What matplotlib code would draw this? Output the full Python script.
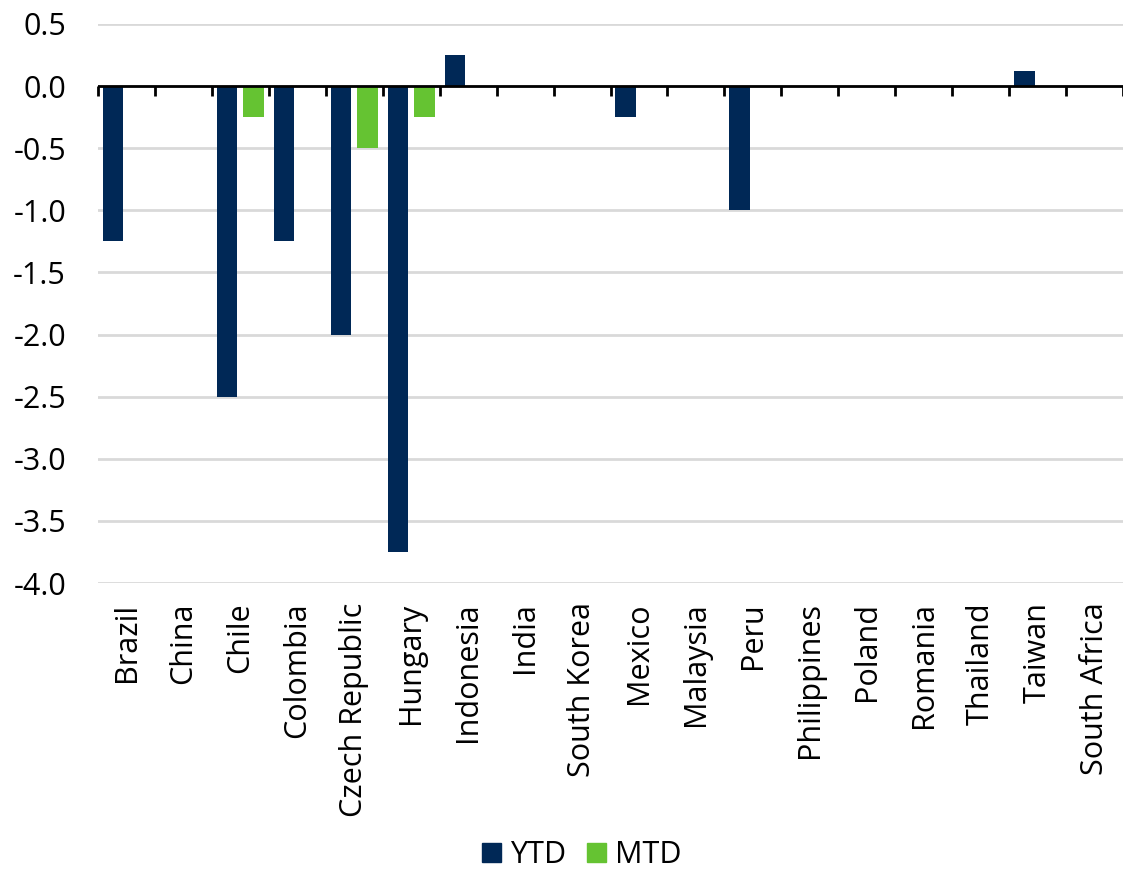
import matplotlib
matplotlib.use("Agg")
import matplotlib.pyplot as plt
import numpy as np
from matplotlib.patches import Patch

countries = ["Brazil", "China", "Chile", "Colombia", "Czech Republic", "Hungary",
             "Indonesia", "India", "South Korea", "Mexico", "Malaysia", "Peru",
             "Philippines", "Poland", "Romania", "Thailand", "Taiwan", "South Africa"]
ytd = [-1.25, 0, -2.5, -1.25, -2.0, -3.75, 0.25, 0, 0, -0.25, 0, -1.0,
       0, 0, 0, 0, 0.125, 0]
mtd = [0, 0, -0.25, 0, -0.5, -0.25, 0, 0, 0, 0, 0, 0,
       0, 0, 0, 0, 0, 0]
yticks = [0.5, 0.0, -0.5, -1.0, -1.5, -2.0, -2.5, -3.0, -3.5, -4.0]

navy = "#002856"
green = "#65C332"
fs = 22

plt.rcParams['font.family'] = ['Open Sans', 'DejaVu Sans']

fig = plt.figure(figsize=(11.23, 8.69), dpi=100)
ax = fig.add_axes([0.0873, 0.3291, 0.9127, 0.6433])

x = np.arange(len(countries))
w = 0.36
off = 0.233
ax.bar(x - off, ytd, width=w, color=navy, zorder=3)
ax.bar(x + off, mtd, width=w, color=green, zorder=3)

ax.set_xlim(-0.5, len(countries) - 0.5)
ax.set_ylim(-4.0, 0.5)
ax.set_yticks(yticks)
ax.set_yticklabels([f"{v:.1f}" for v in yticks], fontsize=fs)
ax.tick_params(axis='y', length=0, pad=23)
ax.yaxis.grid(True, color="#d9d9d9", linewidth=2, zorder=0)

for s in ax.spines.values():
    s.set_visible(False)

# zero baseline with category-boundary ticks hanging below
ax.axhline(0, color="black", linewidth=2, zorder=4)
for b in np.arange(len(countries) + 1) - 0.5:
    ax.plot([b, b], [0, -0.08], color="black", linewidth=2, zorder=4,
            solid_capstyle='butt', clip_on=False)

ax.set_xticks(x)
ax.set_xticklabels(countries, rotation=90, fontsize=fs, va='top', ha='center')
ax.tick_params(axis='x', length=0, pad=14)

handles = [Patch(color=navy, label="YTD"), Patch(color=green, label="MTD")]
fig.legend(handles=handles, loc='center', bbox_to_anchor=(0.518, 0.016),
           ncol=2, frameon=False, fontsize=fs, handlelength=0.6,
           handleheight=0.6, handletextpad=0.3, columnspacing=0.7)

fig.savefig("out.png", dpi=100)
